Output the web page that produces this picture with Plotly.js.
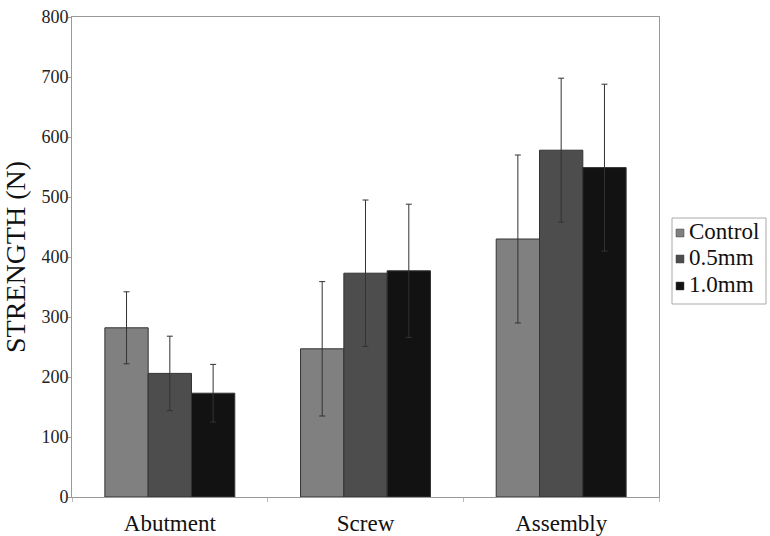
<!DOCTYPE html>
<html>
<head>
<meta charset="utf-8">
<script src="https://cdn.plot.ly/plotly-3.0.1.min.js"></script>
<style>html,body{margin:0;padding:0;background:#fff;}#chart{width:770px;height:536px;}</style>
</head>
<body>
<div id="chart"></div>
<script>
const categories = ["Abutment", "Screw", "Assembly"];
const seriesNames = ["Control", "0.5mm", "1.0mm"];
const controlVals = [282, 247, 430];
const controlErr = [60, 112, 140];
const halfVals = [206, 373, 578];
const halfErr = [62, 122, 120];
const oneVals = [173, 377, 549];
const oneErr = [48, 111, 139];
const yTicks = [0, 100, 200, 300, 400, 500, 600, 700, 800];

const colors = ["#808080", "#4d4d4d", "#121212"];
const vals = [controlVals, halfVals, oneVals];
const errs = [controlErr, halfErr, oneErr];

const traces = seriesNames.map((n, i) => ({
  type: "bar",
  name: n,
  x: categories,
  y: vals[i],
  marker: {color: colors[i], line: {color: "#333", width: 1}},
  error_y: {type: "data", array: errs[i], visible: true, color: "#333", thickness: 1, width: 3}
}));

const font = "Liberation Serif";
const W = 770, H = 536;
const M = {l: 72, r: 111, t: 17, b: 39};
const pw = W - M.l - M.r, ph = H - M.t - M.b;
const px = x => (x - M.l) / pw;
const py = y => (H - M.b - y) / ph;

// legend box (custom, to match the compact legend of the original)
const shapes = [{
  type: "rect", xref: "paper", yref: "paper",
  x0: px(672), x1: px(766), y0: py(304), y1: py(218),
  line: {color: "#aaa", width: 1}, fillcolor: "#fff"
}];
const annotations = [];
const rowY = [231, 257, 284];
seriesNames.forEach((n, i) => {
  shapes.push({
    type: "rect", xref: "paper", yref: "paper",
    x0: px(676), x1: px(684), y0: py(rowY[i] + 6), y1: py(rowY[i] - 2),
    line: {color: "#444", width: 0.5}, fillcolor: colors[i]
  });
  annotations.push({
    xref: "paper", yref: "paper", x: px(687), y: py(rowY[i]),
    xanchor: "left", yanchor: "middle", showarrow: false, text: n,
    font: {family: font, size: 23, color: "#111"}
  });
});

const layout = {
  width: W, height: H,
  margin: M,
  paper_bgcolor: "#fff", plot_bgcolor: "#fff",
  barmode: "group", bargap: 0.336, bargroupgap: 0,
  font: {family: font, color: "#222"},
  showlegend: false,
  shapes: shapes,
  annotations: annotations,
  xaxis: {
    showline: true, linecolor: "#999", linewidth: 1, mirror: true,
    ticks: "outside", tickson: "boundaries", ticklen: 4, tickcolor: "#bbb",
    tickfont: {family: font, size: 23, color: "#111"},
    ticklabelstandoff: 5,
    showgrid: false, zeroline: false
  },
  yaxis: {
    range: [0, 800], tickvals: yTicks, ticktext: yTicks.map(String),
    showline: true, linecolor: "#999", linewidth: 1, mirror: true,
    ticks: "outside", ticklen: 3, tickcolor: "#999",
    tickfont: {family: font, size: 18, color: "#222"},
    ticklabelstandoff: -4,
    showgrid: false, zeroline: false,
    title: {text: "STRENGTH (N)", font: {family: font, size: 28, color: "#111"}, standoff: 8}
  }
};
Plotly.newPlot("chart", traces, layout, {displayModeBar: false, staticPlot: true});
</script>
</body>
</html>
